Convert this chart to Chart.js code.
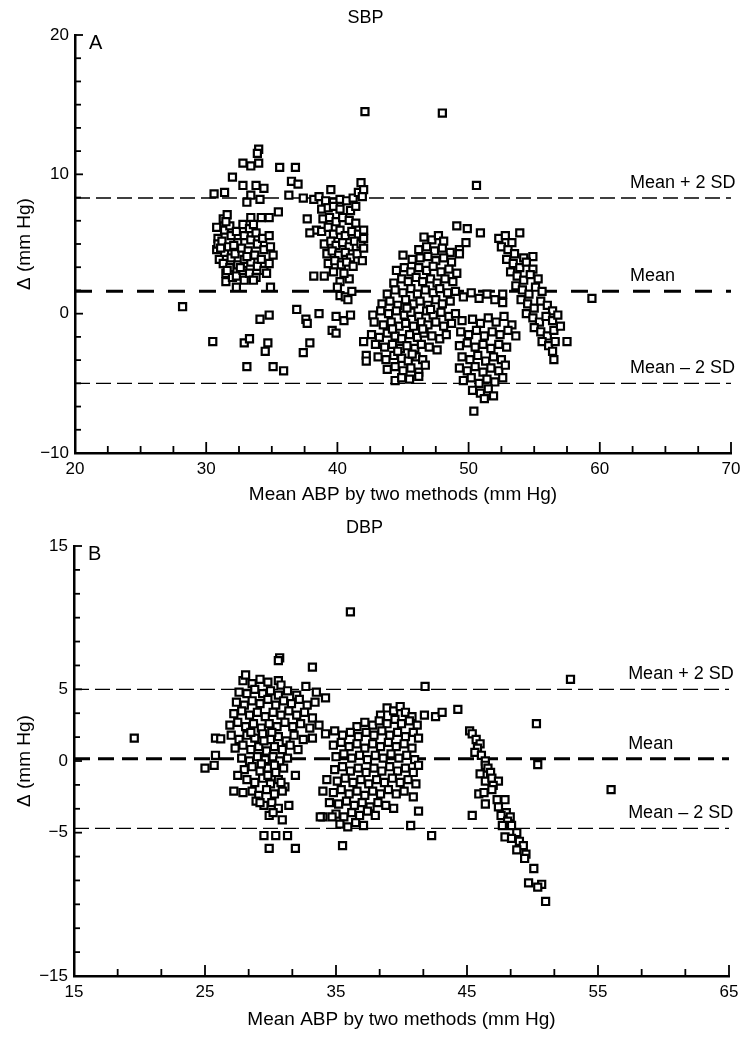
<!DOCTYPE html>
<html><head><meta charset="utf-8">
<script src="https://cdn.jsdelivr.net/npm/chart.js@4.4.1/dist/chart.umd.min.js"></script>
<style>
html,body{margin:0;padding:0;background:#fff;}
#wrap{width:752px;height:1038px;position:relative;overflow:hidden;}
.box{position:absolute;left:0;width:752px;}
canvas{display:block;}
</style></head><body>
<div id="wrap">
<div class="box" style="top:0;height:510px"><canvas id="c1" width="752" height="510"></canvas></div>
<div class="box" style="top:510px;height:528px"><canvas id="c2" width="752" height="528"></canvas></div>
</div>
<script>
// ---------- Panel A (SBP) ----------
const sbpXTicks = [20, 30, 40, 50, 60, 70];
const sbpYTicks = [20, 10, 0, -10];
const sbpLines = [8.3, 1.6, -5.0];          // mean + 2SD, mean, mean - 2SD
const lineLabels = ['Mean + 2 SD', 'Mean', 'Mean \u2013 2 SD'];

const sbpScatter = [[28.2,0.5],[30.5,-2.0],[32.9,-2.1],[33.3,-1.8],[34.1,-0.4],[34.8,-0.1],[34.7,-2.1],[34.5,-2.7],[33.1,-3.8],[35.1,-3.8],[35.9,-4.1],[36.9,0.3],[37.6,-0.4],[37.7,-0.7],[38.6,0.0],[37.9,-2.1],[37.4,-2.8],[39.9,-0.2],[40.5,-0.5],[41.0,-0.1],[39.6,-1.2],[39.9,-1.4],[42.1,14.5],[48.0,14.4],[50.6,9.2],[59.4,1.1],[34.9,1.9]];
const sbpHighA = [[34.0,11.8],[33.9,11.5],[32.8,10.8],[33.4,10.6],[34.0,10.8],[35.6,10.5],[36.8,10.5],[32.0,9.8],[32.8,9.2],[33.8,9.2],[34.4,9.0],[36.5,9.5],[37.0,9.3],[31.4,8.7],[33.4,8.5],[34.1,8.2],[36.3,8.5],[33.1,8.0],[35.5,7.3],[34.8,6.9],[34.2,6.9],[33.4,6.9],[33.6,6.4],[31.6,7.1],[31.5,6.6],[30.6,8.6]];
const sbpClusterA = [[30.8,6.2],[30.9,5.4],[30.8,4.6],[31.0,3.9],[30.9,5.0],[31.3,6.8],[31.4,6.0],[31.2,5.2],[31.4,4.4],[31.3,3.6],[31.5,2.9],[31.5,2.3],[31.8,6.3],[31.9,5.6],[31.7,4.8],[31.9,4.0],[31.8,3.3],[32.0,2.6],[32.3,5.9],[32.4,5.1],[32.2,4.3],[32.4,3.5],[32.3,2.7],[32.3,1.9],[32.8,6.4],[32.9,5.6],[32.7,4.7],[32.9,3.9],[32.8,3.1],[32.9,2.4],[33.3,6.1],[33.4,5.3],[33.2,4.5],[33.4,3.7],[33.3,2.9],[33.8,5.8],[33.9,5.0],[33.7,4.2],[33.9,3.4],[33.8,2.6],[34.3,5.4],[34.4,4.6],[34.2,3.9],[34.4,3.1],[34.6,2.9],[34.8,5.6],[34.9,4.8],[34.8,3.6],[35.1,4.2],[31.1,4.7],[31.6,3.1],[32.1,4.9],[32.6,3.3],[33.1,4.1],[33.6,2.4]];
const sbpClusterB = [[37.4,8.3],[38.2,8.2],[38.6,8.4],[39.1,8.1],[39.7,8.0],[40.2,8.2],[40.7,8.1],[41.2,8.3],[39.5,8.9],[41.8,9.4],[41.6,8.7],[42.0,8.9],[41.9,8.4],[38.8,7.5],[39.3,7.6],[39.7,7.7],[40.2,7.5],[41.0,7.4],[41.4,7.7],[37.7,6.8],[38.4,6.0],[37.9,5.8],[38.9,6.8],[39.4,6.9],[39.9,6.6],[40.4,6.9],[40.9,6.7],[41.4,6.5],[38.8,5.9],[39.3,6.2],[39.7,5.7],[40.2,6.0],[40.6,5.6],[41.1,5.9],[41.6,5.7],[42.0,6.0],[39.0,5.0],[39.5,5.2],[39.9,4.9],[40.4,5.1],[40.9,4.8],[41.3,5.2],[41.8,5.0],[42.0,5.4],[39.2,4.3],[39.6,4.5],[40.1,4.2],[40.6,4.4],[41.0,4.0],[41.5,4.3],[42.0,4.7],[39.3,3.6],[39.8,3.8],[40.3,3.5],[40.7,3.7],[41.2,3.4],[41.9,3.8],[38.2,2.7],[39.0,2.7],[39.7,3.0],[40.2,2.3],[40.9,2.5],[40.5,2.9],[40.0,1.9],[40.2,1.3],[40.6,1.2],[40.8,1.0],[41.1,1.6]];
const sbpClusterC = [[46.6,5.5],[47.2,5.3],[47.7,5.6],[48.1,5.2],[46.2,4.6],[46.8,4.8],[47.4,4.5],[48.0,4.7],[48.6,4.4],[45.0,4.2],[45.7,3.9],[46.3,4.0],[46.9,4.1],[47.5,3.8],[48.1,4.0],[48.7,3.7],[49.3,4.3],[44.5,3.1],[45.1,3.3],[45.6,3.0],[46.2,3.3],[46.8,3.1],[47.3,3.4],[47.9,3.0],[48.5,3.2],[49.1,2.9],[44.3,2.2],[44.9,2.5],[45.4,2.3],[46.0,2.6],[46.5,2.3],[47.1,2.5],[47.6,2.2],[48.2,2.5],[48.8,2.3],[43.8,1.4],[44.4,1.7],[45.0,1.5],[45.6,1.8],[46.1,1.4],[46.7,1.7],[47.3,1.5],[47.8,1.8],[48.4,1.5],[49.0,1.6],[43.4,0.7],[44.0,0.9],[44.6,0.6],[45.2,1.0],[45.8,0.7],[46.3,0.9],[46.9,0.6],[47.5,1.0],[48.0,0.7],[48.6,0.9],[42.7,-0.1],[43.3,0.2],[43.9,0.0],[44.5,0.2],[45.1,-0.1],[45.6,0.1],[46.2,-0.2],[46.8,0.2],[47.3,-0.1],[47.9,0.1],[48.5,-0.2],[49.0,0.0],[42.8,-0.6],[43.5,-0.8],[44.1,-0.6],[44.7,-0.9],[45.2,-0.7],[45.8,-0.9],[46.4,-0.6],[46.9,-0.8],[47.5,-0.6],[48.1,-0.9],[48.7,-0.7],[42.6,-1.5],[43.2,-1.7],[43.8,-1.4],[44.4,-1.6],[44.9,-1.8],[45.5,-1.5],[46.1,-1.7],[46.6,-1.4],[47.2,-1.6],[47.8,-1.8],[48.3,-1.5],[42.0,-2.0],[42.9,-2.2],[43.6,-2.4],[44.2,-2.2],[44.8,-2.5],[45.3,-2.3],[45.9,-2.5],[46.4,-2.2],[47.0,-2.4],[47.6,-2.6],[42.2,-3.0],[43.1,-3.1],[43.7,-3.3],[44.3,-3.0],[44.9,-3.2],[45.4,-3.4],[46.0,-3.1],[46.5,-3.3],[43.8,-4.0],[44.4,-3.8],[45.0,-4.1],[45.6,-3.9],[46.2,-4.2],[46.7,-3.7],[44.4,-4.8],[44.9,-4.6],[45.5,-4.7],[46.2,-4.5],[42.2,-3.4],[45.3,0.4],[46.5,-1.1],[44.2,-1.1],[47.1,0.3],[45.7,-2.9],[44.6,-2.7]];
const sbpClusterD = [[49.1,6.3],[49.9,6.1],[50.9,5.8],[49.8,5.1],[49.3,4.6],[49.6,1.2],[50.2,1.5],[50.8,1.1],[51.4,1.4],[52.0,1.0],[52.6,1.4],[52.6,0.8],[49.5,-0.5],[50.3,-0.4],[50.9,-0.7],[51.5,-0.3],[52.1,-0.6],[52.7,-0.2],[53.3,-0.8],[49.4,-1.3],[50.0,-1.5],[50.6,-1.2],[51.2,-1.6],[51.8,-1.3],[52.4,-1.5],[53.0,-1.2],[53.6,-1.6],[49.3,-2.3],[49.9,-2.1],[50.5,-2.4],[51.1,-2.2],[51.7,-2.5],[52.3,-2.2],[52.9,-2.4],[49.5,-3.1],[50.1,-3.3],[50.7,-3.0],[51.3,-3.4],[51.9,-3.1],[52.5,-3.3],[49.3,-3.9],[49.9,-4.1],[50.5,-3.8],[51.1,-4.2],[51.7,-3.9],[52.3,-4.1],[52.8,-3.7],[49.6,-4.8],[50.2,-4.6],[50.8,-5.0],[51.4,-4.7],[52.0,-4.9],[52.6,-4.6],[50.3,-5.5],[50.9,-5.7],[51.5,-5.4],[51.9,-5.9],[51.2,-6.1],[50.4,-7.0]];
const sbpClusterE = [[52.3,5.4],[52.8,5.6],[53.3,5.1],[53.9,5.8],[52.5,4.8],[53.0,4.6],[53.5,4.3],[54.9,4.1],[54.2,4.0],[52.9,3.9],[53.4,3.6],[53.9,3.3],[54.4,3.7],[54.9,3.2],[53.2,3.0],[53.7,2.7],[54.2,2.4],[54.7,2.8],[55.3,2.5],[53.6,2.0],[54.1,1.7],[54.6,1.4],[55.1,1.9],[55.6,1.6],[54.0,1.0],[54.5,0.7],[55.0,0.4],[55.5,0.9],[56.0,0.6],[56.4,0.2],[54.4,0.0],[54.9,-0.3],[55.4,-0.6],[55.9,-0.2],[56.4,-0.5],[56.8,-0.1],[55.0,-1.0],[55.5,-1.3],[56.0,-1.6],[56.5,-1.2],[57.0,-0.9],[55.6,-2.0],[56.1,-2.3],[56.6,-2.0],[57.5,-2.0],[56.4,-2.7],[56.5,-3.3]];

// ---------- Panel B (DBP) ----------
const dbpXTicks = [15, 25, 35, 45, 55, 65];
const dbpYTicks = [15, 5, 0, -5, -15];
const dbpLines = [5.0, 0.15, -4.7];

const dbpScatter = [[36.1,10.4],[19.6,1.6],[26.2,1.55],[30.7,7.2],[30.6,7.0],[33.2,6.55],[29.5,-5.2],[30.4,-5.2],[31.3,-5.2],[29.9,-6.1],[31.9,-6.1],[33.8,-3.9],[34.7,-3.9],[41.8,5.2],[41.75,3.2],[42.6,3.1],[43.1,3.4],[41.3,-3.5],[40.7,-4.5],[42.3,-5.2],[44.3,3.6],[50.3,2.6],[50.4,-0.25],[52.9,5.7],[56.0,-2.0],[35.5,-5.9],[25.0,-0.5],[25.7,-0.3],[25.8,0.4]];
const dbpClusterA = [[27.9,5.6],[28.6,5.4],[29.2,5.7],[29.8,5.5],[30.6,5.6],[30.8,5.3],[28.1,6.0],[27.6,4.8],[28.2,4.7],[28.8,5.0],[29.4,4.7],[30.0,4.9],[30.6,4.6],[31.3,4.9],[32.0,4.6],[32.7,5.2],[33.5,4.8],[34.2,4.4],[27.4,4.1],[28.0,3.9],[28.6,4.2],[29.2,4.0],[29.8,4.3],[30.4,3.9],[31.0,4.2],[31.6,4.0],[32.2,4.3],[32.8,3.9],[33.4,4.1],[27.2,3.3],[27.8,3.5],[28.4,3.2],[29.0,3.4],[29.6,3.1],[30.2,3.4],[30.8,3.2],[31.4,3.5],[32.0,3.2],[32.6,3.4],[33.2,3.0],[26.9,2.5],[27.5,2.7],[28.1,2.4],[28.7,2.6],[29.3,2.3],[29.9,2.6],[30.5,2.4],[31.1,2.7],[31.7,2.4],[32.3,2.6],[33.0,2.3],[33.7,2.5],[25.8,1.6],[27.0,1.8],[27.6,1.5],[28.2,1.8],[28.8,1.6],[29.4,1.9],[30.0,1.5],[30.6,1.7],[31.2,1.4],[31.8,1.8],[32.5,1.5],[33.2,1.6],[27.3,0.9],[27.9,1.1],[28.5,0.8],[29.1,1.0],[29.7,0.7],[30.3,1.0],[30.9,0.8],[31.5,1.1],[32.1,0.8],[27.8,0.2],[28.4,0.0],[29.0,0.3],[29.6,0.1],[30.2,0.3],[30.7,0.0],[31.3,0.2],[28.0,-0.6],[28.6,-0.4],[29.2,-0.7],[29.8,-0.5],[30.4,-0.8],[31.0,-0.5],[27.5,-1.0],[31.9,-1.0],[28.2,-1.3],[28.8,-1.5],[29.4,-1.2],[30.0,-1.6],[30.6,-1.3],[31.1,-1.8],[30.8,-1.5],[27.2,-2.1],[27.9,-2.2],[28.6,-2.1],[29.1,-2.4],[29.7,-2.0],[30.3,-2.3],[30.9,-2.1],[28.9,-2.8],[29.5,-3.1],[30.1,-2.9],[30.6,-3.3],[31.4,-3.1],[29.2,-2.9],[29.9,-3.8],[30.2,-3.6],[30.9,-4.1],[29.3,-0.2],[29.8,-1.0],[30.3,-0.3],[29.5,1.4],[30.1,2.0],[28.5,2.0]];
const dbpClusterB = [[38.9,3.7],[39.4,3.5],[39.9,3.8],[40.3,3.4],[38.4,3.2],[40.8,3.1],[36.6,2.4],[37.2,2.7],[37.8,2.5],[38.3,2.8],[38.9,2.6],[39.5,2.9],[40.0,2.6],[40.6,2.8],[41.2,2.5],[34.2,1.9],[34.9,2.1],[35.5,1.8],[36.1,2.0],[36.7,1.7],[37.3,2.0],[37.9,1.8],[38.5,2.1],[39.1,1.8],[39.7,2.0],[40.3,1.7],[40.9,2.0],[41.3,1.6],[34.8,1.1],[35.4,1.3],[36.0,1.0],[36.6,1.2],[37.2,0.9],[37.8,1.2],[38.4,1.0],[39.0,1.3],[39.6,1.0],[40.2,1.2],[40.8,0.9],[35.0,0.3],[35.6,0.5],[36.2,0.2],[36.8,0.4],[37.4,0.1],[38.0,0.4],[38.6,0.2],[39.2,0.5],[39.8,0.2],[40.4,0.4],[41.0,0.1],[34.9,-0.6],[35.5,-0.4],[36.1,-0.7],[36.7,-0.5],[37.3,-0.8],[37.9,-0.5],[38.5,-0.7],[39.1,-0.4],[39.7,-0.7],[40.3,-0.5],[40.9,-0.8],[41.3,-0.3],[34.3,-1.3],[35.1,-1.4],[35.7,-1.2],[36.3,-1.5],[36.9,-1.3],[37.5,-1.6],[38.1,-1.3],[38.7,-1.5],[39.3,-1.2],[39.9,-1.5],[40.5,-1.3],[41.1,-1.6],[34.0,-2.1],[34.8,-2.2],[35.4,-2.0],[36.0,-2.3],[36.6,-2.1],[37.2,-2.4],[37.8,-2.1],[38.4,-2.3],[39.0,-2.0],[39.6,-2.3],[40.2,-2.1],[40.9,-2.5],[34.5,-2.9],[35.2,-3.0],[35.8,-2.8],[36.4,-3.1],[37.0,-2.9],[37.6,-3.2],[38.2,-2.9],[38.8,-3.1],[39.4,-3.3],[34.0,-3.9],[35.0,-3.7],[35.6,-3.9],[36.2,-3.6],[36.8,-3.8],[37.4,-3.5],[38.0,-3.8],[35.3,-4.4],[35.9,-4.6],[36.5,-4.3],[37.1,-4.5]];
const dbpClusterC = [[45.2,2.1],[45.4,1.9],[45.7,1.5],[46.0,1.2],[45.8,0.9],[45.6,0.6],[46.1,0.4],[46.4,0.0],[46.4,-0.3],[46.6,-0.5],[46.8,-0.8],[46.0,-0.9],[46.4,-1.4],[46.9,-1.2],[47.4,-1.4],[47.0,-1.7],[45.9,-2.3],[46.3,-2.2],[46.9,-2.0],[46.4,-3.0],[47.3,-2.7],[47.9,-2.7],[47.4,-3.2],[48.0,-3.6],[47.6,-3.8],[48.3,-3.9],[48.1,-4.2],[47.7,-4.5],[48.4,-4.5],[48.8,-5.0],[47.9,-5.3],[48.4,-5.4],[49.0,-5.6],[49.3,-5.9],[48.8,-6.2],[49.5,-6.5],[49.4,-6.8],[50.1,-7.5],[49.7,-8.5],[50.7,-8.6],[50.4,-8.8],[51.0,-9.8],[45.4,-3.8]];

// ---------- helpers ----------
const FONT = '"Liberation Sans", Arial, sans-serif';
const fmt = v => v < 0 ? '\u2212' + Math.abs(v) : String(v);

const decor = {
  id: 'decor',
  afterDraw(chart, args, o) {
    const {ctx, chartArea: a, scales: {x, y}} = chart;
    ctx.save();
    ctx.strokeStyle = '#000';
    ctx.lineWidth = 1.8;
    for (let v = x.min; v <= x.max + 1e-6; v += o.xMinor) {
      const px = x.getPixelForValue(v);
      const major = o.xMajor.some(m => Math.abs(m - v) < 1e-6);
      ctx.beginPath(); ctx.moveTo(px, a.bottom); ctx.lineTo(px, a.bottom - (major ? 11 : 7)); ctx.stroke();
    }
    for (let v = y.max; v >= y.min - 1e-6; v -= o.yMinor) {
      const py = y.getPixelForValue(v);
      const major = o.yMajor.some(m => Math.abs(m - v) < 1e-6);
      ctx.beginPath(); ctx.moveTo(a.left, py); ctx.lineTo(a.left + (major ? 8 : 6), py); ctx.stroke();
    }
    ctx.fillStyle = '#000';
    ctx.textBaseline = 'middle';
    ctx.textAlign = 'left';
    ctx.font = '20px ' + FONT;
    ctx.fillText(o.panel, a.left + 14, a.top + 8);
    ctx.font = '18px ' + FONT;
    o.lines.forEach((v, i) => {
      ctx.fillText(lineLabels[i], x.getPixelForValue(o.labelX), y.getPixelForValue(v) - 15);
    });
    ctx.restore();
  }
};

function makeChart(id, cfg) {
  const sq = pts => ({
    type: 'scatter',
    data: pts.map(p => ({x: p[0], y: p[1]})),
    pointStyle: 'rect', pointRadius: 5.0, pointBorderWidth: 2.2,
    borderColor: '#000', backgroundColor: '#fff', pointBackgroundColor: '#fff', pointBorderColor: '#000',
    order: 1
  });
  const ln = (v, i) => ({
    type: 'line',
    data: [{x: cfg.xMin, y: v}, {x: cfg.xMax, y: v}],
    borderColor: '#000', borderWidth: i === 1 ? 3 : 1.3,
    borderDash: i === 1 ? cfg.meanDash : [15, 6],
    pointRadius: 0, fill: false, order: 2
  });
  return new Chart(document.getElementById(id), {
    type: 'scatter',
    data: { datasets: [...cfg.lines.map(ln), ...cfg.series.map(sq)] },
    plugins: [decor],
    options: {
      responsive: false, animation: false, devicePixelRatio: 1,
      events: [],
      layout: { padding: { left: 0, right: cfg.padRight, top: 0, bottom: 0 } },
      plugins: {
        legend: { display: false }, tooltip: { enabled: false },
        title: { display: true, text: cfg.title, color: '#000',
                 font: { family: FONT, size: 18, weight: 'normal' },
                 padding: cfg.titlePad },
        decor: { xMinor: cfg.xMinor, yMinor: cfg.yMinor, xMajor: cfg.xTicks, yMajor: cfg.yTicks,
                 panel: cfg.panel, lines: cfg.lines, labelX: cfg.labelX }
      },
      scales: {
        x: {
          type: 'linear', min: cfg.xMin, max: cfg.xMax,
          afterBuildTicks: s => { s.ticks = cfg.xTicks.map(v => ({value: v})); },
          afterFit: s => { s.height = cfg.xHeight; },
          grid: { display: false, drawTicks: false },
          border: { display: true, color: '#000', width: 2.5 },
          ticks: { color: '#000', padding: 6, maxRotation: 0, autoSkip: false, font: { family: FONT, size: 17 }, callback: fmt },
          title: { display: true, text: 'Mean ABP by two methods (mm Hg)', color: '#000',
                   font: { family: FONT, size: 19 }, padding: { top: 0, bottom: cfg.xTitlePad } }
        },
        y: {
          type: 'linear', min: cfg.yMin, max: cfg.yMax,
          afterBuildTicks: s => { s.ticks = cfg.yTicks.map(v => ({value: v})); },
          afterFit: s => { s.width = cfg.yWidth; },
          grid: { display: false, drawTicks: false },
          border: { display: true, color: '#000', width: 2.5 },
          ticks: { color: '#000', padding: 6, autoSkip: false, font: { family: FONT, size: 17 }, callback: fmt },
          title: { display: true, text: '\u0394 (mm Hg)', color: '#000',
                   font: { family: FONT, size: 19 }, padding: { top: 13.6, bottom: 0 } }
        }
      }
    }
  });
}

makeChart('c1', {
  title: 'SBP', panel: 'A', titlePad: { top: 7, bottom: 6.4 },
  xMin: 20, xMax: 70, yMin: -10, yMax: 20,
  xTicks: sbpXTicks, yTicks: sbpYTicks, xMinor: 2.5, yMinor: 10 / 6,
  lines: sbpLines, meanDash: [17, 14], labelX: 62.3,
  series: [sbpScatter, sbpHighA, sbpClusterA, sbpClusterB, sbpClusterC, sbpClusterD, sbpClusterE],
  xHeight: 57, xTitlePad: 3.6, yWidth: 75, padRight: 21
});

makeChart('c2', {
  title: 'DBP', panel: 'B', titlePad: { top: 7.2, bottom: 7.2 },
  xMin: 15, xMax: 65, yMin: -15, yMax: 15,
  xTicks: dbpXTicks, yTicks: dbpYTicks, xMinor: 10 / 3, yMinor: 10 / 6,
  lines: dbpLines, meanDash: [16, 8], labelX: 57.3,
  series: [dbpScatter, dbpClusterA, dbpClusterB, dbpClusterC],
  xHeight: 62, xTitlePad: 6.6, yWidth: 74, padRight: 23
});
</script>
</body></html>
